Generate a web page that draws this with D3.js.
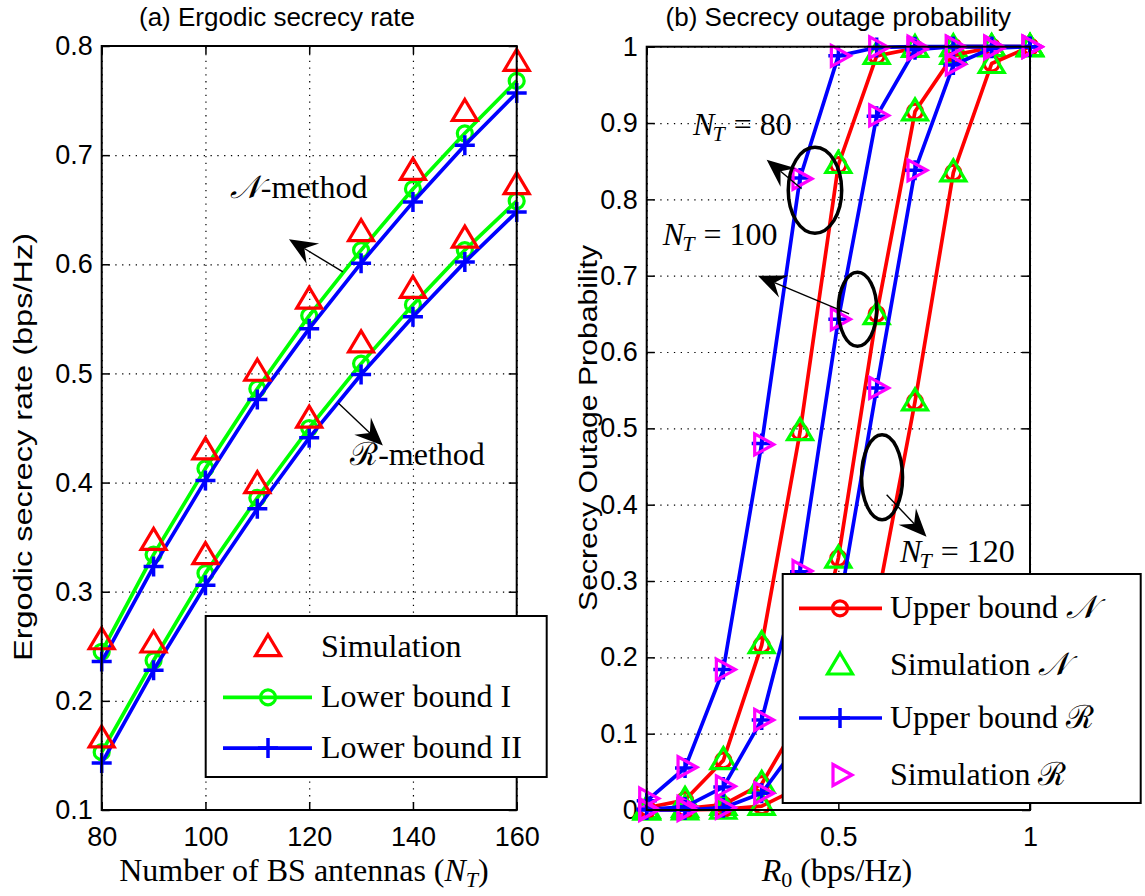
<!DOCTYPE html>
<html>
<head>
<meta charset="utf-8">
<script src="https://cdn.jsdelivr.net/npm/d3@7/dist/d3.min.js"></script>
<style>
body { margin: 0; background: #fff; }
.sans { font-family: Arial, "Liberation Sans", sans-serif; }
.serif { font-family: "Liberation Serif", "Times New Roman", serif; }
</style>
</head>
<body>
<svg id="chart" width="1145" height="896"></svg>
<script>

// ---- panel (a): ergodic secrecy rate ----
var antennas = [80, 90, 100, 110, 120, 130, 140, 150, 160];
var simN     = [0.256, 0.347, 0.430, 0.502, 0.568, 0.630, 0.686, 0.740, 0.786];
var lowerIN  = [0.245, 0.334, 0.413, 0.486, 0.553, 0.613, 0.669, 0.720, 0.768];
var lowerIIN = [0.236, 0.323, 0.402, 0.476, 0.541, 0.601, 0.657, 0.709, 0.757];
var simR     = [0.166, 0.253, 0.334, 0.399, 0.459, 0.528, 0.578, 0.624, 0.673];
var lowerIR  = [0.153, 0.237, 0.317, 0.386, 0.450, 0.509, 0.563, 0.613, 0.658];
var lowerIIR = [0.143, 0.228, 0.306, 0.376, 0.441, 0.499, 0.552, 0.602, 0.648];
var xTicksA = [80, 100, 120, 140, 160];
var yTicksA = [0.1, 0.2, 0.3, 0.4, 0.5, 0.6, 0.7, 0.8];
var legendA = ["Simulation", "Lower bound I", "Lower bound II"];

// ---- panel (b): secrecy outage probability ----
var rates = [0, 0.1, 0.2, 0.3, 0.4, 0.5, 0.6, 0.7, 0.8, 0.9, 1.0];
var upperN80  = [0.003, 0.013, 0.065, 0.216, 0.495, 0.845, 0.988, 0.998, 1, 1, 1];
var simuN80   = [0.002, 0.014, 0.066, 0.218, 0.497, 0.847, 0.990, 0.999, 1, 1, 1];
var upperR80  = [0.012, 0.055, 0.184, 0.480, 0.828, 0.988, 0.999, 1, 1, 1, 1];
var simuR80   = [0.015, 0.056, 0.184, 0.479, 0.827, 0.988, 0.999, 1, 1, 1, 1];
var upperN100 = [0, 0.002, 0.007, 0.034, 0.120, 0.330, 0.650, 0.915, 0.989, 0.999, 1];
var simuN100  = [0, 0.003, 0.006, 0.035, 0.120, 0.330, 0.649, 0.916, 0.990, 1, 1];
var upperR100 = [0.001, 0.004, 0.030, 0.118, 0.312, 0.643, 0.909, 0.996, 1, 1, 1];
var simuR100  = [0.001, 0.004, 0.031, 0.118, 0.313, 0.643, 0.910, 0.997, 1, 1, 1];
var upperN120 = [0, 0, 0.001, 0.005, 0.030, 0.100, 0.270, 0.535, 0.835, 0.978, 1];
var simuN120  = [0, 0, 0.001, 0.006, 0.030, 0.100, 0.270, 0.536, 0.836, 0.978, 1];
var upperR120 = [0, 0, 0.003, 0.022, 0.090, 0.260, 0.553, 0.838, 0.976, 0.998, 1];
var simuR120  = [0, 0, 0.003, 0.022, 0.090, 0.260, 0.553, 0.838, 0.977, 0.998, 1];
var xTicksB = [0, 0.5, 1];
var yTicksB = [0, 0.1, 0.2, 0.3, 0.4, 0.5, 0.6, 0.7, 0.8, 0.9, 1];
var legendB = ["Upper bound ", "Simulation ", "Upper bound ", "Simulation "];
var legendBsym = ["\u{1D4A9}", "\u{1D4A9}", "\u211B", "\u211B"];

var RED = "#ff0000", GREEN = "#00ff00", BLUE = "#0000ff", MAGENTA = "#ff00ff";

var svg = d3.select("#chart");

var xA = d3.scaleLinear().domain([80, 160]).range([101.7, 516.7]);
var yA = d3.scaleLinear().domain([0.1, 0.8]).range([810, 46]);
var xB = d3.scaleLinear().domain([0, 1]).range([646.7, 1030]);
var yB = d3.scaleLinear().domain([0, 1]).range([810, 46.7]);

function drawFrame(x, y, xt, yt, fmtX, fmtY){
	var g = svg.append("g");
	var x0 = x.range()[0], x1 = x.range()[1], y0 = y.range()[0], y1 = y.range()[1];

	// dotted grid
	g.append("g").attr("transform", "translate(0," + y0 + ")")
		.call(d3.axisBottom(x).tickValues(xt).tickSize(-(y0 - y1)).tickFormat(""))
		.call(function(s){ s.select(".domain").remove(); s.selectAll("line").attr("stroke", "#000").attr("stroke-width", 1.2).attr("stroke-dasharray", "1.3,5.5"); });
	g.append("g").attr("transform", "translate(" + x0 + ",0)")
		.call(d3.axisLeft(y).tickValues(yt).tickSize(-(x1 - x0)).tickFormat(""))
		.call(function(s){ s.select(".domain").remove(); s.selectAll("line").attr("stroke", "#000").attr("stroke-width", 1.2).attr("stroke-dasharray", "1.3,5.5"); });

	// inward ticks on all four sides
	var bottom = g.append("g").attr("transform", "translate(0," + y0 + ")")
		.call(d3.axisBottom(x).tickValues(xt).tickSizeInner(-8).tickSizeOuter(0).tickPadding(17).tickFormat(fmtX));
	var top = g.append("g").attr("transform", "translate(0," + y1 + ")")
		.call(d3.axisTop(x).tickValues(xt).tickSizeInner(-8).tickSizeOuter(0).tickFormat(""));
	var left = g.append("g").attr("transform", "translate(" + x0 + ",0)")
		.call(d3.axisLeft(y).tickValues(yt).tickSizeInner(-8).tickSizeOuter(0).tickPadding(9).tickFormat(fmtY));
	var right = g.append("g").attr("transform", "translate(" + x1 + ",0)")
		.call(d3.axisRight(y).tickValues(yt).tickSizeInner(-8).tickSizeOuter(0).tickFormat(""));
	[bottom, top, left, right].forEach(function(a){
		a.select(".domain").remove();
		a.selectAll("line").attr("stroke", "#000").attr("stroke-width", 1.5);
		a.selectAll("text").attr("class", "sans").attr("font-size", 27).attr("fill", "#000");
	});
	bottom.selectAll("text").attr("dy", "0.71em");
	return g;
}

function drawBox(x, y){
	svg.append("rect")
		.attr("x", x.range()[0]).attr("y", y.range()[1])
		.attr("width", x.range()[1] - x.range()[0]).attr("height", y.range()[0] - y.range()[1])
		.attr("fill", "none").attr("stroke", "#000").attr("stroke-width", 2);
}

var TRI_UP = "M0,-12L12.5,9L-12.5,9Z";
var TRI_RIGHT = "M-7,-10.5L12,0L-7,10.5Z";
var PLUS = "M-10,0H10M0,-10V10";

function marker(g, kind, px, py, color){
	if (kind === "circle") {
		g.append("circle").attr("cx", px).attr("cy", py).attr("r", 7.5)
			.attr("fill", "none").attr("stroke", color).attr("stroke-width", 3.2);
	} else {
		var d = kind === "tri" ? TRI_UP : kind === "tri2" ? TRI_RIGHT : PLUS;
		g.append("path").attr("d", d).attr("transform", "translate(" + px + "," + py + ")")
			.attr("fill", "none").attr("stroke", color).attr("stroke-width", kind === "plus" ? 3.5 : 3.2)
			.attr("stroke-linejoin", "miter");
	}
}

function series(x, y, xs, ys, color, kind, withLine){
	var g = svg.append("g");
	if (withLine) {
		var line = d3.line().x(function(d, i){ return x(xs[i]); }).y(function(d){ return y(d); });
		g.append("path").datum(ys).attr("d", line)
			.attr("fill", "none").attr("stroke", color).attr("stroke-width", 3.7).attr("stroke-linejoin", "round");
	}
	ys.forEach(function(v, i){ marker(g, kind, x(xs[i]), y(v), color); });
}

function arrow(x1, y1, x2, y2){
	var ang = Math.atan2(y2 - y1, x2 - x1), L = 28, W = 12, N = 18;
	var c = Math.cos(ang), s = Math.sin(ang);
	function p(a, b){ return [x2 - a * c + b * s, y2 - a * s - b * c]; }
	var base = p(N, 0);
	svg.append("line").attr("x1", x1).attr("y1", y1).attr("x2", base[0]).attr("y2", base[1])
		.attr("stroke", "#000").attr("stroke-width", 1.4);
	svg.append("path")
		.attr("d", "M" + [x2, y2] + "L" + p(L, W) + "L" + base + "L" + p(L, -W) + "Z")
		.attr("fill", "#000");
}

function mathNT(x, y, num){
	var t = svg.append("text").attr("class", "serif").attr("x", x).attr("y", y).attr("font-size", 32);
	t.append("tspan").attr("font-style", "italic").text("N");
	t.append("tspan").attr("font-style", "italic").attr("font-size", 22).attr("dy", 6).attr("dx", -2).text("T");
	t.append("tspan").attr("dy", -6).attr("dx", 9).text("= " + num);
	return t;
}

// ---------------- panel (a) ----------------
drawFrame(xA, yA, xTicksA, yTicksA, d3.format("d"), d3.format(".1f"));

series(xA, yA, antennas, lowerIN, GREEN, "circle", true);
series(xA, yA, antennas, lowerIIN, BLUE, "plus", true);
series(xA, yA, antennas, lowerIR, GREEN, "circle", true);
series(xA, yA, antennas, lowerIIR, BLUE, "plus", true);
series(xA, yA, antennas, simN, RED, "tri", false);
series(xA, yA, antennas, simR, RED, "tri", false);
drawBox(xA, yA);

svg.append("text").attr("class", "sans").attr("x", 277).attr("y", 26)
	.attr("text-anchor", "middle").attr("font-size", 26).text("(a) Ergodic secrecy rate");
svg.append("text").attr("class", "sans").attr("transform", "translate(32,447) rotate(-90)")
	.attr("text-anchor", "middle").attr("font-size", 26)
	.attr("textLength", 428).attr("lengthAdjust", "spacingAndGlyphs")
	.text("Ergodic secrecy rate (bps/Hz)");

var xl = svg.append("text").attr("class", "serif").attr("x", 304).attr("y", 881)
	.attr("text-anchor", "middle").attr("font-size", 32);
xl.append("tspan").text("Number of BS antennas (");
xl.append("tspan").attr("font-style", "italic").text("N");
xl.append("tspan").attr("font-style", "italic").attr("font-size", 22).attr("dy", 6).text("T");
xl.append("tspan").attr("dy", -6).text(")");

var nm = svg.append("text").attr("class", "serif").attr("x", xA(104.7)).attr("y", yA(0.67) + 10).attr("font-size", 32);
nm.append("tspan").attr("font-family", "DejaVu Serif").attr("font-style", "italic").text("\u{1D4A9}");
nm.append("tspan").text("-method");
arrow(xA(126.5), yA(0.593), xA(116.1), yA(0.623));

var rm = svg.append("text").attr("class", "serif").attr("x", xA(127.9)).attr("y", yA(0.425) + 10).attr("font-size", 32);
rm.append("tspan").attr("font-family", "DejaVu Serif").text("\u211B");
rm.append("tspan").text("-method");
arrow(xA(125.6), yA(0.473), xA(134.2), yA(0.434));

// legend (a)
var lgA = svg.append("g");
lgA.append("rect").attr("x", 205.7).attr("y", 616).attr("width", 341).attr("height", 161)
	.attr("fill", "#fff").attr("stroke", "#000").attr("stroke-width", 2);
var legKindA = ["tri", "circle", "plus"], legColA = [RED, GREEN, BLUE], legLineA = [false, true, true];
legendA.forEach(function(name, i){
	var cy = 646.7 + i * 50.7;
	if (legLineA[i]) lgA.append("line").attr("x1", 223).attr("x2", 312).attr("y1", cy).attr("y2", cy)
		.attr("stroke", legColA[i]).attr("stroke-width", 3.7);
	marker(lgA, legKindA[i], 268, cy, legColA[i]);
	lgA.append("text").attr("class", "serif").attr("x", 321).attr("y", cy + 10).attr("font-size", 32).text(name);
});

// ---------------- panel (b) ----------------
var fmtB = function(d){ return (d === 0 || d === 1) ? String(d) : d.toFixed(1); };
drawFrame(xB, yB, xTicksB, yTicksB, fmtB, fmtB);

var groupsN = [[upperN80, simuN80], [upperN100, simuN100], [upperN120, simuN120]];
var groupsR = [[upperR80, simuR80], [upperR100, simuR100], [upperR120, simuR120]];
groupsN.forEach(function(g){
	series(xB, yB, rates, g[0], RED, "circle", true);
	series(xB, yB, rates, g[1], GREEN, "tri", false);
});
groupsR.forEach(function(g){
	series(xB, yB, rates, g[0], BLUE, "plus", true);
	series(xB, yB, rates, g[1], MAGENTA, "tri2", false);
});
drawBox(xB, yB);

svg.append("text").attr("class", "sans").attr("x", 838.3).attr("y", 26)
	.attr("text-anchor", "middle").attr("font-size", 26).text("(b) Secrecy outage probability");
svg.append("text").attr("class", "sans").attr("transform", "translate(597,428) rotate(-90)")
	.attr("text-anchor", "middle").attr("font-size", 26)
	.attr("textLength", 366).attr("lengthAdjust", "spacingAndGlyphs")
	.text("Secrecy Outage Probability");

var xl2 = svg.append("text").attr("class", "serif").attr("x", 837).attr("y", 881)
	.attr("text-anchor", "middle").attr("font-size", 32);
xl2.append("tspan").attr("font-style", "italic").text("R");
xl2.append("tspan").attr("font-size", 22).attr("dy", 6).text("0");
xl2.append("tspan").attr("dy", -6).text(" (bps/Hz)");

// ellipses and arrows
var ellipses = [[0.439, 0.812, 0.0697, 0.0563], [0.550, 0.656, 0.050, 0.0485], [0.614, 0.436, 0.0535, 0.0557]];
ellipses.forEach(function(e){
	svg.append("ellipse").attr("cx", xB(e[0])).attr("cy", yB(e[1]))
		.attr("rx", xB(e[2]) - xB(0)).attr("ry", yB(0) - yB(e[3]))
		.attr("fill", "none").attr("stroke", "#000").attr("stroke-width", 3.5);
});
arrow(xB(0.404), yB(0.814), xB(0.313), yB(0.852));
arrow(xB(0.528), yB(0.650), xB(0.290), yB(0.700));
arrow(xB(0.626), yB(0.413), xB(0.730), yB(0.358));
mathNT(xB(0.121), yB(0.897) + 10, "80");
mathNT(xB(0.042), yB(0.753) + 10, "100");
mathNT(xB(0.661), yB(0.338) + 10, "120");

// legend (b)
var lgB = svg.append("g");
lgB.append("rect").attr("x", 782.7).attr("y", 574).attr("width", 358).attr("height", 229)
	.attr("fill", "#fff").attr("stroke", "#000").attr("stroke-width", 2);
var legKindB = ["circle", "tri", "plus", "tri2"], legColB = [RED, GREEN, BLUE, MAGENTA], legLineB = [true, false, true, false];
var rowY = [608.3, 665, 718, 775];
legendB.forEach(function(name, i){
	var cy = rowY[i];
	if (legLineB[i]) lgB.append("line").attr("x1", 799).attr("x2", 882).attr("y1", cy).attr("y2", cy)
		.attr("stroke", legColB[i]).attr("stroke-width", 3.7);
	marker(lgB, legKindB[i], 840, cy, legColB[i]);
	var t = lgB.append("text").attr("class", "serif").attr("x", 890).attr("y", cy + 10).attr("font-size", 32);
	t.append("tspan").text(name);
	t.append("tspan").attr("font-family", "DejaVu Serif").attr("font-style", i < 2 ? "italic" : null).text(legendBsym[i]);
});

</script>
</body>
</html>
